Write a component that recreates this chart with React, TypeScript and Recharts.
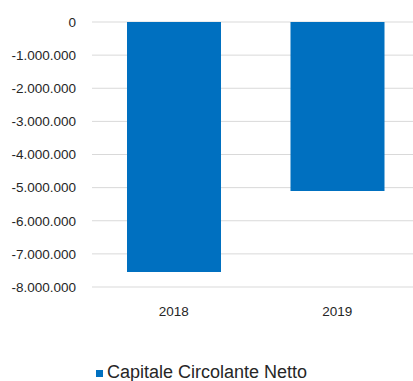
import React from 'react';
import { BarChart, Bar, XAxis, YAxis, CartesianGrid, Legend } from 'recharts';

const years = ['2018', '2019'];
const capitaleCircolanteNetto = [-7550000, -5100000];
const yTicks = [0, -1000000, -2000000, -3000000, -4000000, -5000000, -6000000, -7000000, -8000000];
const seriesName = 'Capitale Circolante Netto';

const data = years.map((year, i) => ({ year, value: capitaleCircolanteNetto[i] }));

const FONT = "'Liberation Sans', Arial, sans-serif";

// 1000000 -> "1.000.000" (separatore italiano)
const formatIt = (v: number) => {
  const s = Math.abs(v).toString().replace(/\B(?=(\d{3})+(?!\d))/g, '.');
  return v < 0 ? '-' + s : s;
};

export default function App() {
  return (
    <div style={{ position: 'fixed', left: 0, top: 0, width: 413, height: 381, overflow: 'hidden', background: '#fff' }}>
      <BarChart
        width={419}
        height={381}
        data={data}
        margin={{ top: 22, right: 0, left: 0, bottom: 32 }}
        barCategoryGap={35}
      >
        <CartesianGrid vertical={false} stroke="#d9d9d9" strokeWidth={1} />
        <XAxis
          dataKey="year"
          axisLine={false}
          tickLine={false}
          tickSize={0}
          tickMargin={19}
          height={40}
          tick={{ fill: '#262626', fontSize: 13.5, fontFamily: FONT }}
        />
        <YAxis
          type="number"
          domain={[-8000000, 0]}
          ticks={yTicks}
          width={92}
          axisLine={false}
          tickLine={false}
          tickSize={0}
          tickMargin={16}
          tickFormatter={formatIt}
          tick={{ fill: '#262626', fontSize: 13.5, fontFamily: FONT }}
        />
        <Legend
          verticalAlign="bottom"
          iconType="square"
          iconSize={7}
          wrapperStyle={{ left: 0, width: 413, top: 361, fontFamily: FONT, fontSize: 18, lineHeight: '22px' }}
          formatter={(v: string) => <span style={{ color: '#262626' }}>{v}</span>}
        />
        <Bar dataKey="value" name={seriesName} fill="#0070C0" isAnimationActive={false} />
      </BarChart>
    </div>
  );
}
